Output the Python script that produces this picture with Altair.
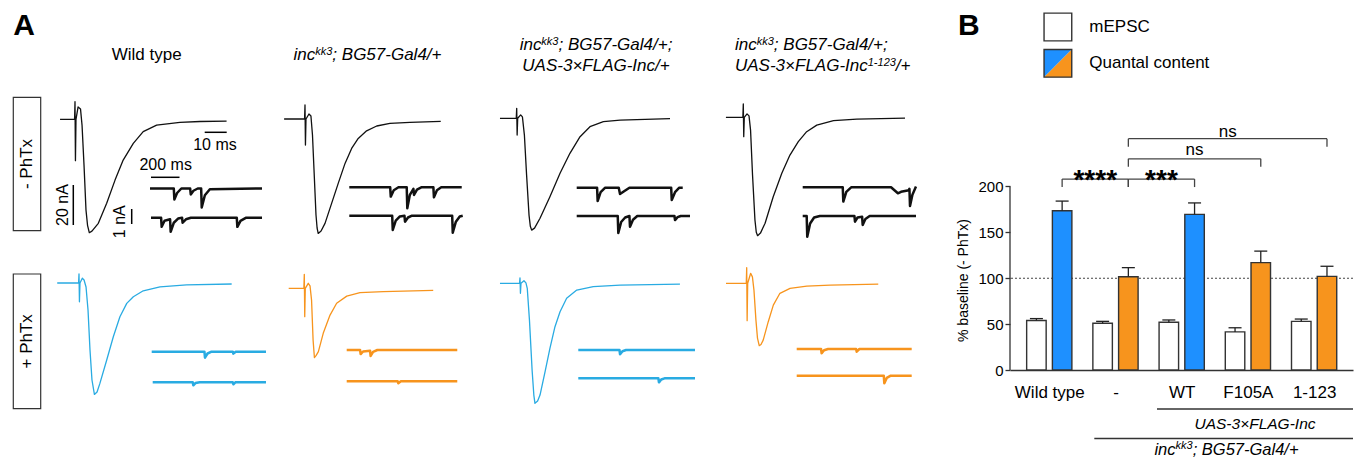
import json
import altair as alt
import pandas as pd

FONT = "Liberation Sans"
EDGE = "#333333"
TRACE_BLACK = "#111111"
TRACE_BLUE = "#29abe2"
TRACE_ORANGE = "#f7941d"
BAR_BLUE = "#1e90ff"
BAR_ORANGE = "#f7941d"

# ---------------- Panel B values ----------------
groups = ["Wild type", "-", "WT", "F105A", "1-123"]
mepsc_mean = [54.0, 51.0, 52.0, 41.5, 53.0]
mepsc_sem = [2.0, 2.0, 2.5, 4.5, 2.5]
qc_mean = [173.5, 101.5, 169.5, 117.0, 102.0]
qc_sem = [10.5, 10.0, 12.5, 12.5, 11.0]
qc_class = ["homeostasis", "blocked", "homeostasis", "blocked", "blocked"]
sig_from = [0, 1, 1, 1]
sig_to = [1, 2, 3, 4]
sig_label = ["****", "***", "ns", "ns"]
baseline_pct = [100]
y_tick_values = [0, 50, 100, 150, 200]

# ---------------- Panel A values: evoked EPSCs (ms from stimulus, nA) ----------------
ev_wt_minus_t = [-6.8, -0.2, 0, 0.2, 0.45, 1.4, 2.5, 3.2, 4.1, 5.0, 5.7, 6.5, 7.7, 10.6, 14.4, 18.2, 21.9, 26.5, 31.0, 37.1, 47.7, 56.8, 68.9]
ev_wt_minus_i = [0, 0, 8.8, -20.7, 0, 6.2, 5.2, -2.9, -22.9, -45.4, -53.0, -56.7, -55.9, -52.0, -42.0, -30.4, -20.4, -12.0, -6.2, -2.9, -1.5, -1.1, -0.9]
ev_inc_minus_t = [-9.5, -0.2, 0, 0.2, 0.45, 1.8, 2.7, 3.4, 4.1, 5.0, 5.5, 6.0, 7.3, 9.1, 12.1, 15.1, 18.2, 21.2, 24.2, 28.0, 32.6, 38.6, 47.7, 61.7]
ev_inc_minus_i = [0, 0, 7.0, -13.0, 0, 2.5, 1.5, -8.0, -25.5, -48.0, -54.5, -57.2, -56.0, -52.2, -42.2, -32.2, -22.2, -14.7, -9.7, -5.9, -3.5, -2.2, -1.7, -1.2]
ev_resc_minus_t = [-7.6, -0.2, 0, 0.2, 0.45, 1.8, 2.6, 3.5, 4.5, 5.6, 6.2, 6.8, 8.1, 10.6, 15.1, 19.7, 24.2, 28.8, 33.3, 39.4, 47.0, 69.7]
ev_resc_minus_i = [0, 0, 5.0, -8.4, 0, 1.7, 0.7, -8.4, -28.4, -48.4, -54.0, -55.9, -54.9, -50.0, -39.2, -27.5, -17.5, -9.2, -4.2, -1.7, -0.9, -0.2]
ev_trunc_minus_t = [-7.9, -0.2, 0, 0.2, 0.45, 1.7, 2.6, 3.3, 4.2, 5.3, 5.9, 6.5, 7.8, 9.9, 13.6, 17.5, 21.2, 25.0, 28.8, 33.4, 41.0, 51.6, 73.5]
ev_trunc_minus_i = [0, 0, 6.7, -9.7, 0, 1.7, 0.7, -6.4, -28.9, -51.4, -57.5, -59.2, -57.9, -53.0, -39.7, -28.0, -18.9, -12.2, -7.2, -3.9, -1.7, -0.9, -0.4]
ev_wt_plus_t = [-9.9, -0.2, 0, 0.2, 0.45, 1.5, 2.3, 3.2, 4.1, 5.0, 5.9, 7.0, 8.2, 9.5, 12.6, 15.6, 18.6, 21.7, 24.7, 29.2, 36.8, 48.9, 69.4]
ev_wt_plus_i = [0, 0, 4.5, -9.4, 0, 2.4, 1.5, -2.0, -13.5, -33.5, -48.5, -55.7, -54.5, -50.2, -38.5, -26.9, -16.9, -10.2, -6.9, -3.9, -1.9, -0.9, -0.5]
ev_inc_plus_t = [-7.1, -0.2, 0, 0.2, 0.45, 1.8, 2.6, 3.3, 4.0, 4.6, 5.4, 6.4, 8.6, 11.7, 14.7, 19.3, 25.3, 35.9, 58.6]
ev_inc_plus_i = [0, 0, 7.0, -14.2, 0, 2.5, 1.2, -5.9, -25.9, -34.7, -33.5, -31.7, -22.5, -13.4, -7.5, -3.9, -2.2, -1.7, -1.0]
ev_resc_plus_t = [-9.1, -0.2, 0, 0.2, 0.45, 1.8, 2.7, 3.3, 4.3, 5.5, 6.3, 6.8, 8.0, 9.1, 11.4, 13.6, 15.9, 18.2, 21.2, 25.8, 33.3, 45.5, 72.7]
ev_resc_plus_i = [0, 0, 2.7, -5.0, 0, 1.3, 0.2, -2.5, -18.4, -43.4, -56.0, -60.0, -58.9, -55.9, -44.2, -32.5, -21.7, -14.2, -7.5, -3.4, -1.7, -0.9, -0.4]
ev_trunc_plus_t = [-9.4, -0.2, 0, 0.2, 0.45, 1.8, 2.6, 3.3, 4.2, 4.9, 5.7, 6.5, 7.5, 9.8, 12.1, 15.1, 19.7, 27.3, 37.9, 59.8]
ev_trunc_plus_i = [0, 0, 7.8, -18.7, 0, 5.0, 3.2, -3.4, -18.4, -27.4, -31.2, -30.6, -28.4, -19.2, -10.9, -5.0, -2.5, -1.4, -0.9, -0.4]

# ---------------- Panel A values: spontaneous mEPSC sweeps (ms, nA) ----------------
mi_wt_minus_a_t = [0, 167, 171, 190, 220, 282, 286, 305, 335, 359, 363, 385, 420, 786]
mi_wt_minus_a_i = [0, 0, -0.73, -0.3, 0, 0, -0.4, -0.15, 0, 0, -1.27, -0.45, -0.05, 0]
mi_wt_minus_b_t = [0, 71, 75, 95, 134, 138, 160, 190, 218, 222, 245, 280, 602, 606, 628, 665, 779]
mi_wt_minus_b_i = [0, 0, -0.6, -0.2, -0.1, -0.93, -0.33, -0.05, 0, -0.33, -0.1, 0, 0, -0.6, -0.2, 0, 0]
mi_inc_minus_a_t = [0, 287, 291, 312, 345, 403, 407, 425, 450, 454, 475, 505, 590, 594, 615, 645, 789]
mi_inc_minus_a_i = [0, 0, -0.62, -0.2, 0, 0, -1.4, -0.5, -0.1, -0.51, -0.15, 0, 0, -0.67, -0.2, 0, 0]
mi_inc_minus_b_t = [0, 301, 305, 326, 355, 387, 391, 412, 440, 722, 726, 748, 775, 796]
mi_inc_minus_b_i = [0, 0, -0.95, -0.33, -0.05, 0, -0.4, -0.12, 0, 0, -1.13, -0.4, -0.05, 0]
mi_resc_minus_a_t = [0, 143, 147, 168, 200, 295, 304, 330, 370, 663, 667, 690, 720, 744]
mi_resc_minus_a_i = [0, 0, -0.89, -0.3, 0, 0, -0.42, -0.25, 0, 0, -0.82, -0.3, 0, 0]
mi_resc_minus_b_t = [0, 288, 292, 312, 340, 370, 374, 395, 425, 686, 690, 708, 730, 795]
mi_resc_minus_b_i = [0, 0, -1.13, -0.4, -0.1, 0, -0.71, -0.25, 0, 0, -0.27, -0.08, 0, 0]
mi_trunc_minus_a_t = [0, 281, 285, 306, 340, 620, 650, 668, 690, 745, 749, 753, 770, 795]
mi_trunc_minus_a_i = [0, 0, -0.95, -0.3, 0, 0, -0.25, -0.4, -0.3, -0.2, -0.1, -1.25, -0.5, 0.05]
mi_trunc_minus_b_t = [0, 28, 32, 52, 80, 120, 363, 367, 385, 417, 421, 440, 470, 795]
mi_trunc_minus_b_i = [0, 0, -1.38, -0.5, -0.1, 0, 0, -0.38, -0.1, -0.05, -0.6, -0.2, 0, 0]
mi_wt_plus_a_t = [0, 370, 374, 392, 420, 569, 573, 590, 802]
mi_wt_plus_a_i = [0, 0, -0.4, -0.12, 0, 0, -0.13, 0, 0]
mi_wt_plus_b_t = [0, 281, 285, 300, 330, 562, 566, 580, 795]
mi_wt_plus_b_i = [0, 0, -0.2, -0.05, 0, 0, -0.13, 0, 0]
mi_inc_plus_a_t = [0, 94, 98, 115, 164, 168, 185, 215, 776]
mi_inc_plus_a_i = [0, 0, -0.27, -0.1, -0.05, -0.4, -0.12, 0, 0]
mi_inc_plus_b_t = [0, 358, 362, 380, 776]
mi_inc_plus_b_i = [0, 0, -0.13, 0, 0]
mi_resc_plus_a_t = [0, 289, 293, 310, 335, 819]
mi_resc_plus_a_i = [0, 0, -0.29, -0.08, 0, 0]
mi_resc_plus_b_t = [0, 562, 566, 582, 605, 819]
mi_resc_plus_b_i = [0, 0, -0.27, -0.08, 0, 0]
mi_trunc_plus_a_t = [0, 171, 175, 192, 220, 417, 421, 440, 807]
mi_trunc_plus_a_i = [0, 0, -0.29, -0.08, 0, 0, -0.18, 0, 0]
mi_trunc_plus_b_t = [0, 611, 615, 632, 660, 807]
mi_trunc_plus_b_i = [0, 0, -0.51, -0.15, 0, 0]

# scale-bar values
bar_ev_ms, bar_ev_na = 10, 20
bar_mi_ms, bar_mi_na = 200, 1

# ====================== layout (pixels) ======================
WA, HA = 1002, 444          # panel A view
WB, HB = 343, 362           # panel B plot area
EV_GX, EV_GY = 2.2, 2.0     # px per ms, px per nA (evoked)
MI_GX, MI_GY = 0.1425, 15.0 # px per ms, px per nA (minis)

traces = {
    "ev_wt_minus": (ev_wt_minus_t, ev_wt_minus_i, 67.0, 111.3, "ev", TRACE_BLACK),
    "ev_inc_minus": (ev_inc_minus_t, ev_inc_minus_i, 297.0, 111.0, "ev", TRACE_BLACK),
    "ev_resc_minus": (ev_resc_minus_t, ev_resc_minus_i, 508.7, 110.3, "ev", TRACE_BLACK),
    "ev_trunc_minus": (ev_trunc_minus_t, ev_trunc_minus_i, 735.3, 109.3, "ev", TRACE_BLACK),
    "ev_wt_plus": (ev_wt_plus_t, ev_wt_plus_i, 71.0, 275.0, "ev", TRACE_BLUE),
    "ev_inc_plus": (ev_inc_plus_t, ev_inc_plus_i, 296.3, 280.3, "ev", TRACE_ORANGE),
    "ev_resc_plus": (ev_resc_plus_t, ev_resc_plus_i, 512.0, 275.3, "ev", TRACE_BLUE),
    "ev_trunc_plus": (ev_trunc_plus_t, ev_trunc_plus_i, 738.7, 275.3, "ev", TRACE_ORANGE),
    "mi_wt_minus_a": (mi_wt_minus_a_t, mi_wt_minus_a_i, 142.0, 180.5, "mi", TRACE_BLACK),
    "mi_wt_minus_b": (mi_wt_minus_b_t, mi_wt_minus_b_i, 143.0, 209.8, "mi", TRACE_BLACK),
    "mi_inc_minus_a": (mi_inc_minus_a_t, mi_inc_minus_a_i, 341.3, 179.3, "mi", TRACE_BLACK),
    "mi_inc_minus_b": (mi_inc_minus_b_t, mi_inc_minus_b_i, 341.3, 207.7, "mi", TRACE_BLACK),
    "mi_resc_minus_a": (mi_resc_minus_a_t, mi_resc_minus_a_i, 568.7, 179.7, "mi", TRACE_BLACK),
    "mi_resc_minus_b": (mi_resc_minus_b_t, mi_resc_minus_b_i, 568.7, 208.0, "mi", TRACE_BLACK),
    "mi_trunc_minus_a": (mi_trunc_minus_a_t, mi_trunc_minus_a_i, 794.7, 179.3, "mi", TRACE_BLACK),
    "mi_trunc_minus_b": (mi_trunc_minus_b_t, mi_trunc_minus_b_i, 794.7, 208.0, "mi", TRACE_BLACK),
    "mi_wt_plus_a": (mi_wt_plus_a_t, mi_wt_plus_a_i, 143.7, 343.7, "mi", TRACE_BLUE),
    "mi_wt_plus_b": (mi_wt_plus_b_t, mi_wt_plus_b_i, 144.7, 374.3, "mi", TRACE_BLUE),
    "mi_inc_plus_a": (mi_inc_plus_a_t, mi_inc_plus_a_i, 338.7, 342.0, "mi", TRACE_ORANGE),
    "mi_inc_plus_b": (mi_inc_plus_b_t, mi_inc_plus_b_i, 338.7, 373.3, "mi", TRACE_ORANGE),
    "mi_resc_plus_a": (mi_resc_plus_a_t, mi_resc_plus_a_i, 570.3, 342.0, "mi", TRACE_BLUE),
    "mi_resc_plus_b": (mi_resc_plus_b_t, mi_resc_plus_b_i, 570.3, 370.3, "mi", TRACE_BLUE),
    "mi_trunc_plus_a": (mi_trunc_plus_a_t, mi_trunc_plus_a_i, 788.7, 341.0, "mi", TRACE_ORANGE),
    "mi_trunc_plus_b": (mi_trunc_plus_b_t, mi_trunc_plus_b_i, 788.7, 367.7, "mi", TRACE_ORANGE),
}

rows = []
for key, (tt, ii, x0, y0, kind, colr) in traces.items():
    gx, gy = (EV_GX, EV_GY) if kind == "ev" else (MI_GX, MI_GY)
    for j, (t, v) in enumerate(zip(tt, ii)):
        rows.append(dict(trace=key, idx=j, t=t, v=v, x0=x0, y0=y0, gx=gx, gy=gy, kind=kind, colr=colr))
trace_df = pd.DataFrame(rows)

XS = alt.Scale(domain=[0, WA], nice=False, zero=False)
YS = alt.Scale(domain=[0, HA], nice=False, zero=False, reverse=True)

# Arial / Liberation Sans advance widths (1/1000 em)
ARIAL = {"i": 222, "n": 556, "c": 500, "k": 500, "3": 556, ";": 278, " ": 278, "B": 667,
         "G": 778, "5": 556, "7": 556, "-": 333, "a": 556, "l": 222, "4": 556, "/": 278,
         "+": 584, "U": 722, "A": 667, "S": 667, "\u00d7": 584, "F": 611, "L": 556,
         "I": 278, "1": 556, "2": 556}


def text_width(s, size):
    return sum(ARIAL.get(ch, 556) for ch in s) * size / 1000.0


ONE = pd.DataFrame({"k": [0]})


def label(txt, x, y, size, style="normal", weight="normal", align="left",
          baseline="alphabetic", angle=0, color="black"):
    return alt.Chart(ONE).mark_text(
        text=txt, font=FONT, fontSize=size, fontStyle=style, fontWeight=weight,
        align=align, baseline=baseline, angle=angle, color=color
    ).encode(x=alt.value(x), y=alt.value(y))


def rich(parts, x, y, size, sup_size, raise_px, anchor="left"):
    widths = [text_width(t, sup_size if s else size) for t, s in parts]
    if anchor == "center":
        x = x - sum(widths) / 2.0
    out = []
    for (t, s), w in zip(parts, widths):
        out.append(label(t, x, y - (raise_px if s else 0), sup_size if s else size, style="italic"))
        x += w
    return out


def rule(x, x2, y, y2, width=1.5, color="black"):
    return alt.Chart(ONE).mark_rule(color=color, strokeWidth=width).encode(
        x=alt.value(x), x2=alt.value(x2), y=alt.value(y), y2=alt.value(y2))


def box(x, x2, y, y2):
    return alt.Chart(ONE).mark_rect(fillOpacity=0, stroke=EDGE, strokeWidth=1.2).encode(
        x=alt.value(x), x2=alt.value(x2), y=alt.value(y), y2=alt.value(y2))


base = alt.Chart(trace_df).transform_calculate(
    xp="datum.x0 + datum.t * datum.gx",
    yp="datum.y0 - datum.v * datum.gy",
)
enc = dict(
    x=alt.X("xp:Q", scale=XS, axis=None),
    y=alt.Y("yp:Q", scale=YS, axis=None),
    detail="trace:N",
    order="idx:Q",
    color=alt.Color("colr:N", scale=None),
)
ev_layer = base.transform_filter("datum.kind == 'ev'").mark_line(strokeWidth=1.3, strokeJoin="round").encode(**enc)
mi_layer = base.transform_filter("datum.kind == 'mi'").mark_line(strokeWidth=2.5, strokeJoin="round").encode(**enc)

SUP = [("inc", False), ("kk3", True)]
a_layers = [
    ev_layer, mi_layer,
    label("A", 5.3, 27, 30, weight="bold"),
    label("Wild type", 138.7, 52, 17, align="center"),
    *rich(SUP + [("; BG57-Gal4/+", False)], 359.5, 52, 17, 11, 5, anchor="center"),
    *rich(SUP + [("; BG57-Gal4/+;", False)], 588, 42, 17, 11, 5, anchor="center"),
    label("UAS-3\u00d7FLAG-Inc/+", 588, 63, 17, style="italic", align="center"),
    *rich(SUP + [("; BG57-Gal4/+;", False)], 727, 42, 17, 11, 5),
    *rich([("UAS-3\u00d7FLAG-Inc", False), ("1-123", True), ("/+", False)], 727, 63, 17, 11, 5),
    box(5.3, 32.7, 89.3, 222.7),
    box(5.3, 32.7, 266.0, 400.7),
    label("- PhTx", 19, 156, 17, align="center", baseline="middle", angle=270),
    label("+ PhTx", 19, 333.3, 17, align="center", baseline="middle", angle=270),
    # scale bars
    rule(218.7 - bar_ev_ms * EV_GX, 218.7, 124.3, 124.3),
    label("10 ms", 207, 142, 16, align="center"),
    rule(143, 143 + bar_mi_ms * MI_GX, 169.3, 169.3),
    label("200 ms", 157.7, 162, 16, align="center"),
    rule(65.3, 65.3, 217 - bar_ev_na * EV_GY, 217),
    label("20 nA", 55, 197, 16, align="center", baseline="middle", angle=270),
    rule(123.7, 123.7, 216 - bar_mi_na * MI_GY, 216),
    label("1 nA", 112, 213.7, 16, align="center", baseline="middle", angle=270),
]
panel_a = alt.layer(*a_layers).properties(width=WA, height=HA)

# ====================== Panel B ======================
PX_PER_UNIT = 0.918
GROUP_STEP = 68.2
FIRST_GROUP = 35.3
D = 13.25 / GROUP_STEP
BX = alt.Scale(domain=[-FIRST_GROUP / GROUP_STEP, (WB - FIRST_GROUP) / GROUP_STEP], nice=False, zero=False)
BY = alt.Scale(domain=[0, HB / PX_PER_UNIT], nice=False, zero=True)

brows = []
for i in range(len(groups)):
    brows.append(dict(gi=i, series="mEPSC", val=mepsc_mean[i], err=mepsc_sem[i], cls="mEPSC"))
    brows.append(dict(gi=i, series="QC", val=qc_mean[i], err=qc_sem[i], cls=qc_class[i]))
bar_df = pd.DataFrame(brows)

bars_base = alt.Chart(bar_df).transform_calculate(
    xpos=f"datum.gi + (datum.series == 'QC' ? {D} : {-D})",
    top="datum.val + datum.err",
)

x_axis = alt.Axis(
    values=list(range(len(groups))),
    labelExpr=f"{json.dumps(groups)}[datum.value]",
    ticks=False, tickSize=0, domain=True, domainColor=EDGE, domainWidth=1.3,
    grid=False, title=None, labelFont=FONT, labelFontSize=17, labelColor="black",
    labelPadding=14, labelFlush=False, labelOverlap=False, labelAngle=0,
)
y_axis = alt.Axis(
    values=y_tick_values, domain=False, tickSize=5, tickColor=EDGE, tickWidth=1.3,
    grid=False, labelFont=FONT, labelFontSize=15, labelColor="black", labelPadding=2,
    title="% baseline (- PhTx)", titleFont=FONT, titleFontSize=14, titleFontWeight="normal",
    titleColor="black", titleX=-47, titleY=272, titleAngle=270, titleAlign="center",
    titleBaseline="middle",
)

fill_scale = alt.Scale(domain=["mEPSC", "homeostasis", "blocked"], range=["white", BAR_BLUE, BAR_ORANGE])

dash = alt.Chart(pd.DataFrame({"ref": baseline_pct})).mark_rule(
    strokeDash=[2, 2], color="#444444", strokeWidth=1.1).encode(y=alt.Y("ref:Q", scale=BY))

bars = bars_base.mark_bar(orient="vertical", width=19.5, stroke=EDGE, strokeWidth=1.4).encode(
    x=alt.X("xpos:Q", scale=BX, axis=x_axis),
    y=alt.Y("val:Q", scale=BY, axis=y_axis),
    fill=alt.Fill("cls:N", scale=fill_scale, legend=None),
)
err_line = bars_base.mark_rule(color="#222222", strokeWidth=1.3).encode(
    x=alt.X("xpos:Q", scale=BX), y=alt.Y("val:Q", scale=BY), y2="top:Q")
err_cap = bars_base.mark_tick(orient="horizontal", size=13, thickness=1.3, color="#222222", opacity=1).encode(
    x=alt.X("xpos:Q", scale=BX), y=alt.Y("top:Q", scale=BY))

y_domain = alt.Chart(pd.DataFrame({"lo": [y_tick_values[0]], "hi": [y_tick_values[-1]]})).mark_rule(
    color=EDGE, strokeWidth=1.3).encode(x=alt.value(0), y=alt.Y("lo:Q", scale=BY), y2="hi:Q")

# significance brackets (layout: bracket level in % units, label offset in px)
BRACKET_LEVEL = [208, 208, 230, 252]
LABEL_OFFSET_PX = [9.5, 9.5, -4.3, -2.0]
TICK_UNITS = 8.0 / PX_PER_UNIT
sig_rows = []
for a, b, lab, lv, off in zip(sig_from, sig_to, sig_label, BRACKET_LEVEL, LABEL_OFFSET_PX):
    sig_rows.append(dict(ga=a, gb=b, label=lab, lv=lv, lo=lv - TICK_UNITS, ty=lv - off / PX_PER_UNIT,
                         star=lab.startswith("*")))
sig_df = pd.DataFrame(sig_rows)
sig_base = alt.Chart(sig_df).transform_calculate(
    xa=f"datum.ga + {D}", xb=f"datum.gb + {D}", xm=f"(datum.ga + datum.gb) / 2 + {D}")
br_h = sig_base.mark_rule(color="#444444", strokeWidth=1.3).encode(
    x=alt.X("xa:Q", scale=BX), x2="xb:Q", y=alt.Y("lv:Q", scale=BY))
br_l = sig_base.mark_rule(color="#444444", strokeWidth=1.3).encode(
    x=alt.X("xa:Q", scale=BX), y=alt.Y("lo:Q", scale=BY), y2="lv:Q")
br_r = sig_base.mark_rule(color="#444444", strokeWidth=1.3).encode(
    x=alt.X("xb:Q", scale=BX), y=alt.Y("lo:Q", scale=BY), y2="lv:Q")
star_txt = sig_base.transform_filter("datum.star").mark_text(
    font=FONT, fontSize=28, fontWeight="bold", color="black", baseline="alphabetic").encode(
    x=alt.X("xm:Q", scale=BX), y=alt.Y("ty:Q", scale=BY), text="label:N")
ns_txt = sig_base.transform_filter("!datum.star").mark_text(
    font=FONT, fontSize=17, color="black", baseline="alphabetic").encode(
    x=alt.X("xm:Q", scale=BX), y=alt.Y("ty:Q", scale=BY), text="label:N")

SQ = 27.7
legend_layers = [
    alt.Chart(ONE).mark_point(shape="square", size=SQ * SQ, filled=True, fill="white", stroke=EDGE,
                              strokeWidth=1.4, opacity=1).encode(x=alt.value(47.9), y=alt.value(19)),
    alt.Chart(ONE).mark_point(shape="M-1,-1L1,-1L-1,1Z", size=SQ * SQ, filled=True, fill=BAR_BLUE,
                              strokeWidth=0, opacity=1).encode(x=alt.value(47.9), y=alt.value(55.3)),
    alt.Chart(ONE).mark_point(shape="M1,-1L1,1L-1,1Z", size=SQ * SQ, filled=True, fill=BAR_ORANGE,
                              strokeWidth=0, opacity=1).encode(x=alt.value(47.9), y=alt.value(55.3)),
    alt.Chart(ONE).mark_point(shape="square", size=SQ * SQ, filled=False, stroke=EDGE,
                              strokeWidth=1.4, opacity=1).encode(x=alt.value(47.9), y=alt.value(55.3)),
    label("mEPSC", 79.3, 19, 17, baseline="middle"),
    label("Quantal content", 79.3, 55.3, 17, baseline="middle"),
    label("B", -52, 27, 30, weight="bold"),
]

genotype_layers = [
    rule(147, WB, 401, 401, width=1.3, color=EDGE),
    label("UAS-3\u00d7FLAG-Inc", 245, 420.5, 15.5, style="italic", align="center"),
    rule(84.3, WB, 430.5, 430.5, width=1.3, color=EDGE),
    *rich(SUP + [("; BG57-Gal4/+", False)], 216.5, 446.5, 16.5, 11, 5.5, anchor="center"),
]

panel_b = alt.layer(
    dash, bars, err_line, err_cap, y_domain, br_h, br_l, br_r, star_txt, ns_txt,
    *legend_layers, *genotype_layers,
).properties(width=WB, height=HB)

chart = alt.hconcat(panel_a, panel_b, spacing=0, bounds="flush", padding=0).configure_view(stroke=None)
chart.save("out.html", embed_options={"renderer": "svg", "actions": False})
